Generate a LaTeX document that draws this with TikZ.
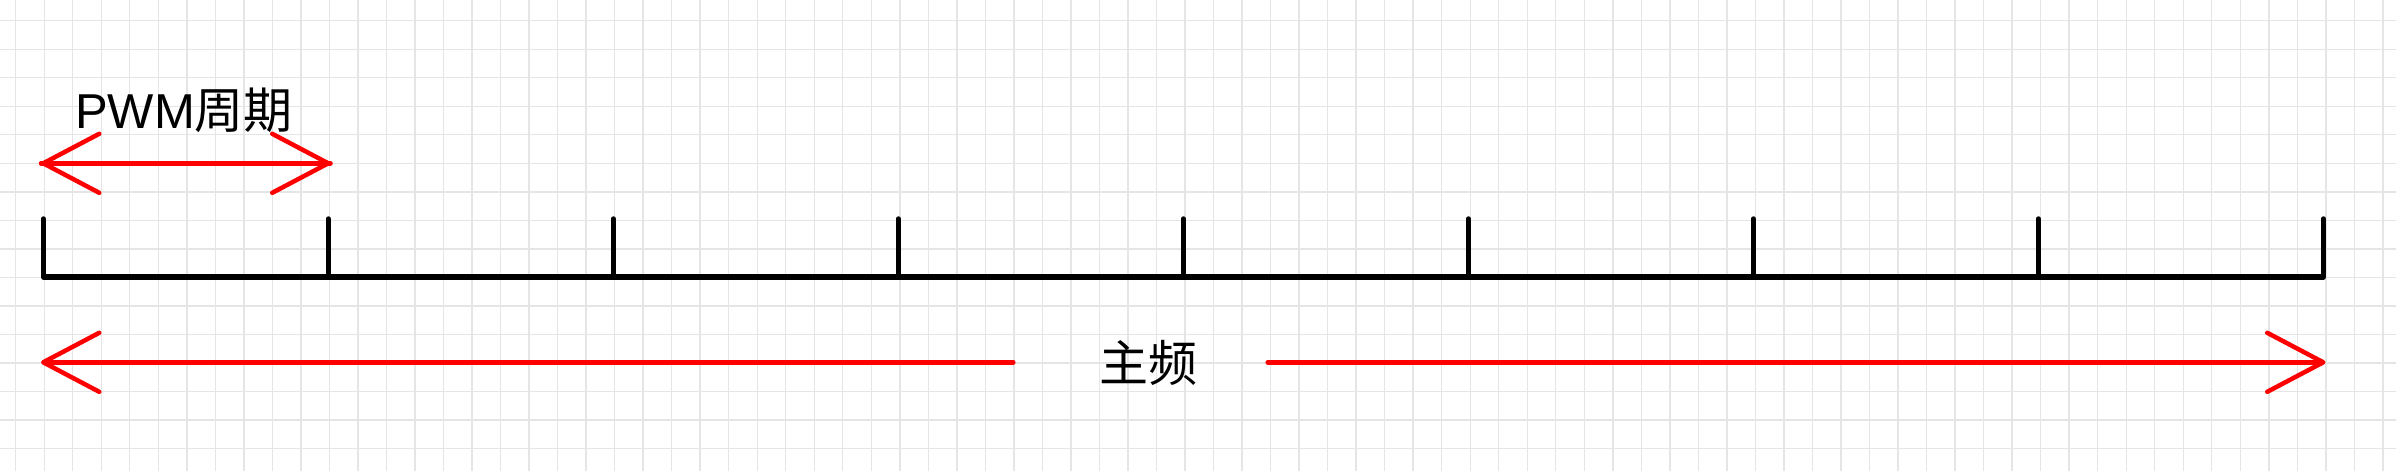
\documentclass[tikz,border=0pt]{standalone}
\usepackage{fontspec}
\setmainfont{Liberation Sans}
\newfontfamily\cjk{Noto Sans CJK SC}
\usetikzlibrary{arrows.meta}
\begin{document}
\begin{tikzpicture}[x=1pt,y=-1pt,
  gridline/.style={draw=black!10,line width=1.4pt},
  axisline/.style={draw=black,line width=5.5pt,line cap=round,line join=round},
  redarrow/.style={draw=red,line width=4.5pt,line cap=round,
    -{Straight Barb[length=56pt,width=59pt,round]}},
  lbl/.style={inner sep=0pt,font=\fontsize{49}{55}\selectfont}]
\useasboundingbox (0,0) rectangle (2396,471);
\fill[white] (0,0) rectangle (2396,471);
\foreach \i in {0,...,83} {\draw[gridline] ({15.7+28.52*\i},0) -- ({15.7+28.52*\i},471);}
\foreach \j in {0,...,15} {\draw[gridline] (0,{20.7+28.52*\j}) -- (2396,{20.7+28.52*\j});}
% ticks
\foreach \k in {0,...,8} {
  \coordinate (b\k) at ({43.3+285*\k},277);
  \coordinate (t\k) at ({43.3+285*\k},219);
}
\draw[axisline] (t0) -- (b0) -- (b8) -- (t8);
\foreach \k in {1,...,7} {\draw[axisline] (b\k) -- (t\k);}
% PWM period
\node[lbl] (pwm) at (184,110) {PWM{\cjk 周期}};
\coordinate (pl) at (41,163.3);
\coordinate (pr) at (330.5,163.3);
\draw[redarrow] (pr) -- (pl);
\draw[redarrow] (pl) -- (pr);
% main frequency
\node[lbl] (freq) at (1148.3,363) {\cjk 主频};
\coordinate (fl) at (41,362.3);
\coordinate (fla) at (1013.3,362.3);
\coordinate (frb) at (1267.7,362.3);
\coordinate (fr) at (2325.5,362.3);
\draw[redarrow] (fla) -- (fl);
\draw[redarrow] (frb) -- (fr);
\end{tikzpicture}
\end{document}
